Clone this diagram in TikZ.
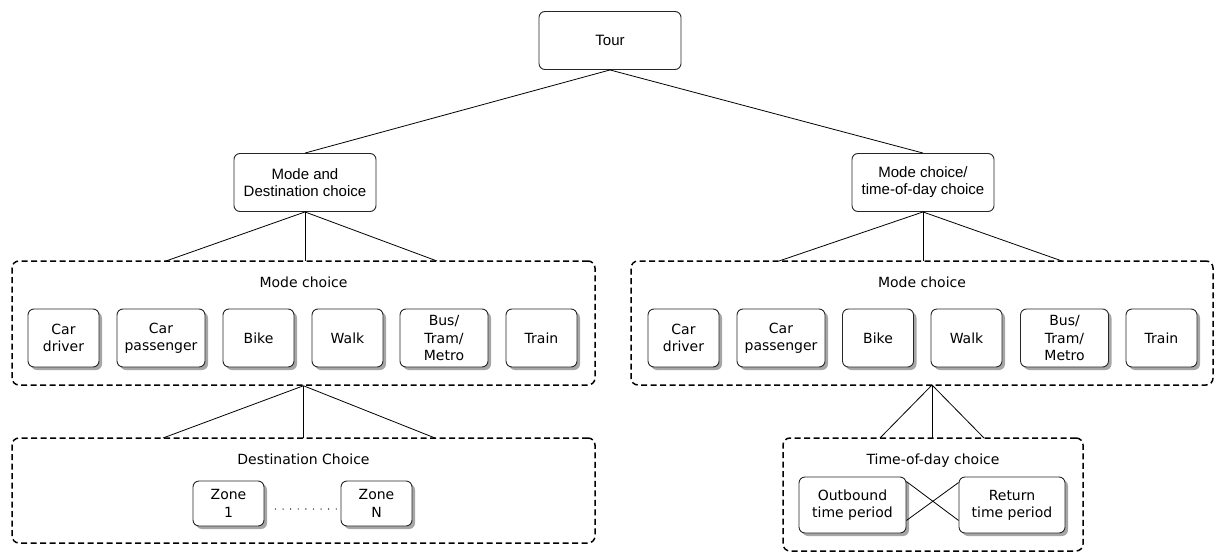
\documentclass[tikz,border=0pt]{standalone}
\usepackage{fontspec}
\setmainfont{DejaVu Sans}
\newfontfamily\arialf{Liberation Sans}
\usetikzlibrary{shadows,calc}
\begin{document}
\begin{tikzpicture}[x=1pt,y=-1pt,
  topbox/.style={draw=black!85, line width=0.9pt, rounded corners=6pt, minimum width=142pt, minimum height=58pt, inner sep=0pt, align=center, font=\arialf\fontsize{15}{17}\selectfont},
  item/.style={draw=black!85, line width=0.9pt, fill=white, rounded corners=6pt, minimum height=58pt, inner sep=0pt, align=center, font=\fontsize{14}{17.3}\selectfont, drop shadow={shadow xshift=3pt, shadow yshift=-3pt, fill=black!35, opacity=1}},
  group/.style={draw, line width=1.5pt, dash pattern=on 6pt off 3.5pt, rounded corners=7pt, inner sep=0pt},
  lbl/.style={font=\fontsize{14}{17}\selectfont, inner sep=0pt, anchor=base},
  conn/.style={line width=0.8pt}
]
\useasboundingbox (0,0) rectangle (1214,551);

% top level
\node[topbox] (tour) at (610,40.5) {Tour};
\node[topbox] (md) at (305,182.5) {Mode and\\Destination choice};
\node[topbox] (mt) at (923,182.5) {Mode choice/\\time-of-day choice};

% groups
\node[group, minimum width=583pt, minimum height=124pt] (lmode) at (303.5,323) {};
\node[group, minimum width=582pt, minimum height=124pt] (rmode) at (922,323) {};
\node[group, minimum width=583pt, minimum height=105pt] (dest) at (303.5,490.5) {};
\node[group, minimum width=300pt, minimum height=113pt] (tod) at (933,494.5) {};

% labels
\node[lbl] (lml) at (303.5,287) {Mode choice};
\node[lbl] (rml) at (922,287) {Mode choice};
\node[lbl] (dl) at (303.5,464) {Destination Choice};
\node[lbl] (tl) at (933,464) {Time-of-day choice};

% left mode items
\node[item, minimum width=71pt] (l1) at (63.5,338) {Car\\driver};
\node[item, minimum width=88pt] (l2) at (161,338) {Car\\passenger};
\node[item, minimum width=71pt] (l3) at (258.5,338) {Bike};
\node[item, minimum width=71pt] (l4) at (347.5,338) {Walk};
\node[item, minimum width=88pt] (l5) at (444,338) {Bus/\\Tram/\\Metro};
\node[item, minimum width=71pt] (l6) at (541.5,338) {Train};

% right mode items
\node[item, minimum width=71pt] (r1) at (683.5,338) {Car\\driver};
\node[item, minimum width=88pt] (r2) at (781,338) {Car\\passenger};
\node[item, minimum width=71pt] (r3) at (878,338) {Bike};
\node[item, minimum width=71pt] (r4) at (966.5,338) {Walk};
\node[item, minimum width=88pt] (r5) at (1064.5,338) {Bus/\\Tram/\\Metro};
\node[item, minimum width=71pt] (r6) at (1161.5,338) {Train};

% zones
\node[item, minimum width=71pt, minimum height=45pt] (z1) at (228.5,503.5) {Zone\\1};
\node[item, minimum width=71pt, minimum height=45pt] (zn) at (376.5,503.5) {Zone\\N};
\foreach \i in {0,...,8} \fill ($(z1.east)+(11+7.6*\i,5.5)$) circle (0.7pt);

% time periods
\node[item, minimum width=107pt, minimum height=56pt] (ob) at (852.5,505) {Outbound\\time period};
\node[item, minimum width=106pt, minimum height=56pt] (rt) at (1012,505) {Return\\time period};
\draw[conn] ($(ob.north east)+(0,5)$) -- ($(rt.south west)+(0,-13)$);
\draw[conn] ($(ob.south east)+(0,-13)$) -- ($(rt.north west)+(0,6)$);

% connection coordinates
\coordinate (a1) at (166,261);
\coordinate (a2) at (305,261);
\coordinate (a3) at (437,261);
\coordinate (b1) at (779,261);
\coordinate (b2) at (923,261);
\coordinate (b3) at (1062,261);
\coordinate (c1) at (163,438);
\coordinate (c2) at (303.5,438);
\coordinate (c3) at (435,438);
\coordinate (rapex) at (932,385);
\coordinate (d1) at (880,438);
\coordinate (d2) at (932,438);
\coordinate (d3) at (984,438);

\draw[conn] (tour.south) -- (md.north);
\draw[conn] (tour.south) -- (mt.north);
\foreach \t in {a1,a2,a3} \draw[conn] (md.south) -- (\t);
\foreach \t in {b1,b2,b3} \draw[conn] (mt.south) -- (\t);
\foreach \t in {c1,c2,c3} \draw[conn] (lmode.south) -- (\t);
\foreach \t in {d1,d2,d3} \draw[conn] (rapex) -- (\t);
\end{tikzpicture}
\end{document}
